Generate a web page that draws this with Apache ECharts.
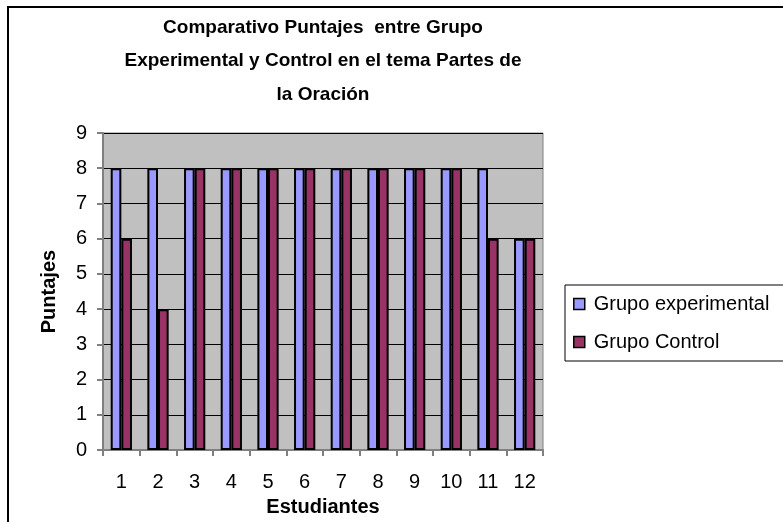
<!DOCTYPE html>
<html>
<head>
<meta charset="utf-8">
<script src="https://cdn.jsdelivr.net/npm/echarts@6/dist/echarts.min.js"></script>
<style>
  html, body { margin: 0; padding: 0; background: #fff; }
</style>
</head>
<body>
<div id="myChart" style="width: 783px; height: 522px;"></div>
<script>
// datos
var estudiantes = ['1', '2', '3', '4', '5', '6', '7', '8', '9', '10', '11', '12']
var grupoExperimental = [8, 8, 8, 8, 8, 8, 8, 8, 8, 8, 8, 6]
var grupoControl = [6, 4, 8, 8, 8, 8, 8, 8, 8, 8, 6, 6]
var yTicks = [0, 1, 2, 3, 4, 5, 6, 7, 8, 9]

var myChart = echarts.init(document.getElementById('myChart'))
var fuente = 'Liberation Sans, Arial, sans-serif'

myChart.setOption({
  animation: false,
  color: ['#9999FF', '#993366'],
  graphic: [{
    type: 'rect',
    shape: { x: 8, y: 7, width: 800, height: 540 },
    style: { fill: 'none', stroke: '#000', lineWidth: 2 },
    silent: true
  }],
  title: {
    text: 'Comparativo Puntajes  entre Grupo\nExperimental y Control en el tema Partes de\nla Oración',
    left: 323,
    top: 11,
    padding: 0,
    textAlign: 'center',
    textStyle: {
      fontFamily: fuente,
      fontSize: 19,
      fontWeight: 'bold',
      color: '#000',
      lineHeight: 33.5
    }
  },
  legend: {
    data: ['Grupo experimental', 'Grupo Control'],
    orient: 'vertical',
    left: 565,
    top: 285,
    padding: [7, 30, 7, 8],
    itemGap: 14,
    itemWidth: 11,
    itemHeight: 11,
    icon: 'rect',
    backgroundColor: '#fff',
    borderColor: '#000',
    borderWidth: 1,
    itemStyle: { borderColor: '#000', borderWidth: 1.5 },
    textStyle: {
      fontFamily: fuente,
      fontSize: 20,
      color: '#000',
      lineHeight: 24,
      padding: [0, 0, 0, 4]
    }
  },
  grid: {
    left: 103,
    top: 133,
    width: 440,
    height: 318,
    show: true,
    backgroundColor: '#C0C0C0',
    borderColor: '#808080',
    borderWidth: 1
  },
  xAxis: {
    type: 'category',
    data: estudiantes,
    name: 'Estudiantes',
    nameLocation: 'middle',
    nameGap: 42,
    nameTextStyle: { fontFamily: fuente, fontSize: 20, fontWeight: 'bold', color: '#000' },
    axisLine: { lineStyle: { color: '#808080', width: 2 } },
    axisTick: { show: true, length: 6, lineStyle: { color: '#808080', width: 2 } },
    axisLabel: { fontFamily: fuente, fontSize: 20, color: '#000', margin: 22 },
    splitLine: { show: false }
  },
  yAxis: {
    type: 'value',
    min: 0,
    max: yTicks[yTicks.length - 1],
    interval: 1,
    name: 'Puntajes',
    nameLocation: 'middle',
    nameGap: 44,
    nameTextStyle: { fontFamily: fuente, fontSize: 20, fontWeight: 'bold', color: '#000' },
    axisLine: { show: true, lineStyle: { color: '#808080', width: 2 } },
    axisTick: { show: true, length: 6, lineStyle: { color: '#808080', width: 2 } },
    axisLabel: { fontFamily: fuente, fontSize: 20, color: '#000', margin: 16 },
    splitLine: { show: true, lineStyle: { color: '#000', width: 1 } }
  },
  series: [{
    name: 'Grupo experimental',
    type: 'bar',
    barGap: '0%',
    barCategoryGap: '42%',
    itemStyle: { borderColor: '#000', borderWidth: 2 },
    data: grupoExperimental
  }, {
    name: 'Grupo Control',
    type: 'bar',
    barGap: '0%',
    barCategoryGap: '42%',
    itemStyle: { borderColor: '#000', borderWidth: 2 },
    data: grupoControl
  }]
})
</script>
</body>
</html>
